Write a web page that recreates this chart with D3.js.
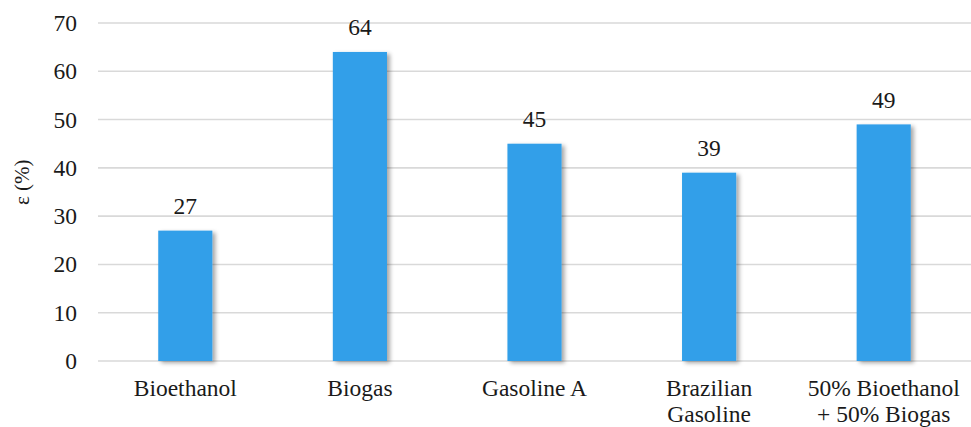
<!DOCTYPE html>
<html>
<head>
<meta charset="utf-8">
<script src="https://cdn.jsdelivr.net/npm/d3@7"></script>
<style>
  html, body { margin: 0; padding: 0; background: #fff; }
  svg { display: block; }
</style>
</head>
<body>
<svg id="chart" width="971" height="427"></svg>
<script>
// Exergy efficiency by fuel
const categories = ["Bioethanol", "Biogas", "Gasoline A", "Brazilian\nGasoline", "50% Bioethanol\n+ 50% Biogas"];
const efficiency = [27, 64, 45, 39, 49];
const yTicks = [0, 10, 20, 30, 40, 50, 60, 70];
const yLabel = "ε (%)";

const FONT = "'Liberation Serif', 'Times New Roman', Times, serif";
const FS = "23.5px";
const INK = "#1a1a1a";

const width = 971, height = 427;
const margin = { top: 23, right: 0, bottom: 66, left: 98 };

const svg = d3.select("#chart");

const defs = svg.append("defs");
const shadow = defs.append("filter").attr("id", "barShadow")
  .attr("x", "-20%").attr("y", "-10%").attr("width", "160%").attr("height", "130%");
shadow.append("feDropShadow")
  .attr("dx", 3).attr("dy", 2).attr("stdDeviation", 2.2)
  .attr("flood-color", "#000").attr("flood-opacity", 0.35);

const x = d3.scaleBand()
  .domain(categories)
  .range([margin.left, width - margin.right])
  .paddingInner(0).paddingOuter(0);

const y = d3.scaleLinear()
  .domain([0, 70])
  .range([height - margin.bottom, margin.top]);

const barW = x.bandwidth() * 0.31;

// Horizontal gridlines
svg.append("g")
  .selectAll("line")
  .data(yTicks)
  .join("line")
  .attr("x1", margin.left).attr("x2", width - margin.right)
  .attr("y1", d => y(d)).attr("y2", d => y(d))
  .attr("stroke", "#d9d9d9").attr("stroke-width", 1.6);

// Y axis tick labels
const yAxis = d3.axisLeft(y).tickValues(yTicks).tickSize(0).tickPadding(21);
const gy = svg.append("g")
  .attr("transform", `translate(${margin.left},0)`)
  .call(yAxis);
gy.select(".domain").remove();
gy.selectAll("text")
  .style("font-family", FONT)
  .style("font-size", FS)
  .attr("fill", INK);

// Y axis title
svg.append("text")
  .attr("transform", `translate(29,${y(37)}) rotate(-90)`)
  .attr("text-anchor", "middle")
  .style("font-family", FONT)
  .style("font-size", "21px")
  .attr("fill", INK)
  .text(yLabel);

// Bars
svg.append("g")
  .selectAll("rect")
  .data(efficiency)
  .join("rect")
  .attr("x", (d, i) => x(categories[i]) + (x.bandwidth() - barW) / 2)
  .attr("y", d => y(d))
  .attr("width", barW)
  .attr("height", d => y(0) - y(d))
  .attr("fill", "#319FE9")
  .attr("filter", "url(#barShadow)");

// Value labels
svg.append("g")
  .selectAll("text")
  .data(efficiency)
  .join("text")
  .attr("x", (d, i) => x(categories[i]) + x.bandwidth() / 2)
  .attr("y", d => y(d) - 16.5)
  .attr("text-anchor", "middle")
  .style("font-family", FONT)
  .style("font-size", FS)
  .attr("fill", INK)
  .text(d => d3.format("d")(d));

// Category labels (may wrap onto two lines)
const xl = svg.append("g")
  .selectAll("text")
  .data(categories)
  .join("text")
  .attr("x", d => x(d) + x.bandwidth() / 2)
  .attr("y", y(0) + 35)
  .attr("text-anchor", "middle")
  .style("font-family", FONT)
  .style("font-size", FS)
  .attr("fill", INK);
xl.selectAll("tspan")
  .data(d => d.split("\n").map(s => ({ s, x: x(d) + x.bandwidth() / 2 })))
  .join("tspan")
  .attr("x", t => t.x)
  .attr("dy", (t, i) => i === 0 ? 0 : 25.5)
  .text(t => t.s);
</script>
</body>
</html>
